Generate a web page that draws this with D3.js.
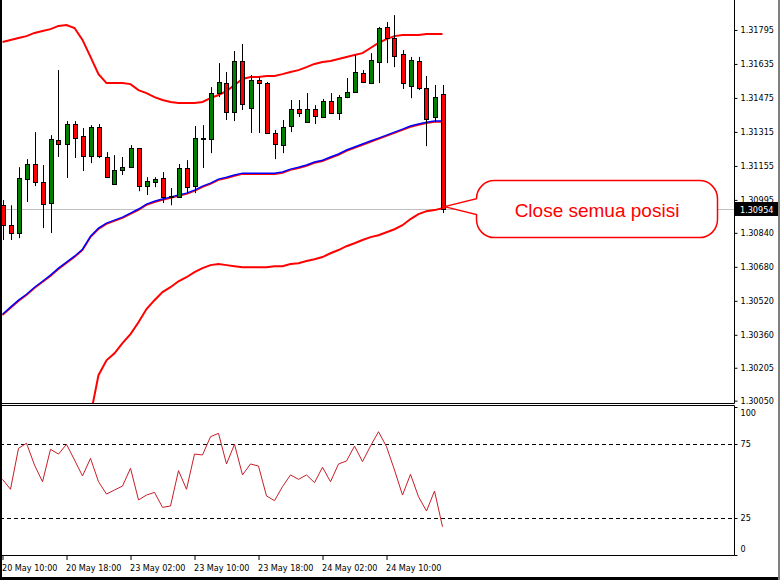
<!DOCTYPE html>
<html>
<head>
<meta charset="utf-8">
<script src="https://cdn.jsdelivr.net/npm/d3@7"></script>
<style>
  body { margin: 0; background: #fff; }
  svg { display: block; }
  .axis text { font-family: "DejaVu Sans Condensed", "Liberation Sans", sans-serif; font-size: 9px; fill: #000; }
  .axis line, .axis path { stroke: #000; }
</style>
</head>
<body>
<svg id="chart" width="780" height="580"></svg>
<script>
// H1 candles, 20 May 10:00 -> 24 May 17:00
var opens  = [1.30970,1.30876,1.30839,1.31093,1.31164,1.31079,1.30980,1.31277,1.31258,1.31352,
              1.31295,1.31201,1.31338,1.31197,1.31069,1.31135,1.31149,1.31239,1.31060,1.31079,
              1.31098,1.31008,1.31008,1.31145,1.31060,1.31281,1.31281,1.31498,1.31545,1.31409,
              1.31649,1.31427,1.31559,1.31545,1.31310,1.31253,1.31343,1.31423,1.31361,1.31423,
              1.31385,1.31460,1.31404,1.31479,1.31503,1.31592,1.31545,1.31644,1.31809,1.31757,
              1.31682,1.31531,1.31649,1.31522,1.31385,1.31493];
var highs  = [1.30994,1.30970,1.31149,1.31187,1.31314,1.31159,1.31300,1.31606,1.31366,1.31366,
              1.31333,1.31347,1.31352,1.31220,1.31206,1.31197,1.31253,1.31239,1.31102,1.31102,
              1.31126,1.31051,1.31164,1.31182,1.31343,1.31347,1.31526,1.31639,1.31597,1.31696,
              1.31729,1.31583,1.31573,1.31550,1.31324,1.31371,1.31465,1.31465,1.31498,1.31441,
              1.31470,1.31498,1.31489,1.31569,1.31677,1.31606,1.31686,1.31809,1.31832,1.31865,
              1.31700,1.31668,1.31668,1.31578,1.31536,1.31536];
var lows   = [1.30806,1.30806,1.30815,1.30985,1.31060,1.30862,1.30839,1.31197,1.31098,1.31192,
              1.31131,1.31168,1.31192,1.31098,1.31069,1.31112,1.31149,1.31036,1.31018,1.31055,
              1.30980,1.30970,1.31008,1.31027,1.31027,1.31145,1.31215,1.31479,1.31371,1.31366,
              1.31418,1.31310,1.31310,1.31310,1.31187,1.31215,1.31314,1.31385,1.31361,1.31352,
              1.31385,1.31404,1.31371,1.31474,1.31503,1.31545,1.31545,1.31545,1.31639,1.31620,
              1.31517,1.31474,1.31512,1.31248,1.31361,1.30933];
var closes = [1.30876,1.30839,1.31098,1.31164,1.31079,1.30975,1.31281,1.31258,1.31352,1.31286,
              1.31201,1.31338,1.31201,1.31102,1.31135,1.31149,1.31239,1.31060,1.31084,1.31093,
              1.31008,1.31013,1.31145,1.31055,1.31286,1.31286,1.31498,1.31550,1.31409,1.31649,
              1.31446,1.31559,1.31545,1.31310,1.31258,1.31338,1.31423,1.31404,1.31423,1.31390,
              1.31460,1.31404,1.31479,1.31503,1.31597,1.31550,1.31653,1.31804,1.31757,1.31672,
              1.31545,1.31653,1.31522,1.31376,1.31479,1.30954];

// Bollinger bands
var bandUpper = [1.31738,1.31748,1.31757,1.31766,1.31781,1.31790,1.31799,1.31814,1.31818,1.31804,
                 1.31748,1.31668,1.31587,1.31545,1.31545,1.31545,1.31540,1.31512,1.31498,1.31479,
                 1.31465,1.31456,1.31451,1.31451,1.31451,1.31456,1.31474,1.31489,1.31507,1.31536,
                 1.31564,1.31573,1.31573,1.31578,1.31578,1.31587,1.31597,1.31606,1.31620,1.31635,
                 1.31644,1.31649,1.31658,1.31668,1.31677,1.31686,1.31710,1.31734,1.31752,1.31766,
                 1.31771,1.31771,1.31771,1.31776,1.31776,1.31776];
var bandMiddle = [1.30457,1.30490,1.30523,1.30551,1.30584,1.30612,1.30641,1.30674,1.30702,1.30730,
                  1.30763,1.30824,1.30862,1.30886,1.30900,1.30914,1.30933,1.30952,1.30975,1.30989,
                  1.30999,1.31008,1.31018,1.31027,1.31041,1.31060,1.31074,1.31093,1.31102,1.31112,
                  1.31121,1.31121,1.31121,1.31121,1.31121,1.31126,1.31140,1.31149,1.31159,1.31173,
                  1.31182,1.31197,1.31211,1.31230,1.31244,1.31258,1.31272,1.31286,1.31300,1.31314,
                  1.31328,1.31343,1.31352,1.31361,1.31366,1.31366];
var bandLower = [1.29176,1.29233,1.29289,1.29336,1.29388,1.29435,1.29482,1.29534,1.29586,1.29656,
                 1.29779,1.29981,1.30170,1.30240,1.30273,1.30321,1.30363,1.30419,1.30481,1.30523,
                 1.30561,1.30584,1.30612,1.30631,1.30655,1.30674,1.30688,1.30693,1.30688,1.30683,
                 1.30678,1.30678,1.30678,1.30678,1.30683,1.30683,1.30693,1.30697,1.30707,1.30716,
                 1.30726,1.30744,1.30759,1.30777,1.30791,1.30806,1.30820,1.30829,1.30843,1.30857,
                 1.30876,1.30905,1.30928,1.30942,1.30947,1.30956];

// RSI
var rsi = [51.1,44.4,72.1,75.5,60.8,49.5,71.4,68.2,74.8,64.2,
           53.4,65.3,49.5,41.2,43.9,46.6,58.6,37.2,40.5,42.3,
           32.2,33.1,57.0,44.4,68.2,67.6,79.9,82.2,61.5,74.8,
           54.1,61.5,60.1,39.9,36.7,46.2,54.1,51.1,54.1,48.9,
           59.3,49.5,61.5,63.5,73.6,63.1,73.6,83.3,73.2,57.4,
           40.5,54.5,39.4,29.7,43.2,19.1];

var priceTicks = [1.31795,1.31635,1.31475,1.31315,1.31155,1.30995,1.30840,1.30680,1.30520,1.30360,1.30205,1.30050];
var rsiTicks = [100, 75, 25, 0];
var rsiLevels = [75, 25];
var timeTickIdx = [0, 8, 16, 24, 32, 40, 48];
var timeLabels = ["20 May 10:00","20 May 18:00","23 May 02:00","23 May 10:00","23 May 18:00","24 May 02:00","24 May 10:00"];
var lastPrice = 1.30954;
var noteText = "Close semua posisi";

var svg = d3.select("#chart");
var plotRight = 734;

var x = d3.scaleLinear().domain([0, 55]).range([2.5, 442.5]);
var y = d3.scaleLinear().domain([1.30039, 1.31936]).range([403, 0]);
var yr = d3.scaleLinear().domain([0, 100]).range([555, 407]);

svg.append("defs").append("clipPath").attr("id", "mainclip")
  .append("rect").attr("x", 0).attr("y", 0).attr("width", plotRight).attr("height", 403);

// current price line
svg.append("line")
  .attr("x1", 0).attr("x2", plotRight)
  .attr("y1", Math.round(y(lastPrice)) + 0.5).attr("y2", Math.round(y(lastPrice)) + 0.5)
  .attr("stroke", "#c0c0c0");

var main = svg.append("g").attr("clip-path", "url(#mainclip)");

// bands
function bandLine(arr) {
  return d3.line().x(function (d, i) { return x(i); }).y(function (d) { return y(d); })(arr);
}
main.append("path").attr("d", bandLine(bandUpper)).attr("fill", "none").attr("stroke", "#ff0000").attr("stroke-width", 2);
main.append("path").attr("d", bandLine(bandLower)).attr("fill", "none").attr("stroke", "#ff0000").attr("stroke-width", 2);
main.append("path").attr("d", bandLine(bandMiddle)).attr("fill", "none").attr("stroke", "#ff0000").attr("stroke-width", 1.5)
  .attr("transform", "translate(0,1)");
main.append("path").attr("d", bandLine(bandMiddle)).attr("fill", "none").attr("stroke", "#0000ff").attr("stroke-width", 1.5);

// candles
var candles = d3.range(opens.length).map(function (i) {
  return { i: i, o: opens[i], h: highs[i], l: lows[i], c: closes[i] };
});
var cg = main.append("g").selectAll("g").data(candles).enter().append("g");
cg.append("line")
  .attr("x1", function (d) { return Math.round(x(d.i)) + 0.5; })
  .attr("x2", function (d) { return Math.round(x(d.i)) + 0.5; })
  .attr("y1", function (d) { return y(d.h); })
  .attr("y2", function (d) { return y(d.l); })
  .attr("stroke", "#000");
cg.append("rect")
  .attr("x", function (d) { return Math.round(x(d.i)) - 1.5; })
  .attr("width", 4)
  .attr("y", function (d) { return Math.round(y(Math.max(d.o, d.c))) + 0.5; })
  .attr("height", function (d) { return Math.max(1, Math.round(Math.abs(y(d.o) - y(d.c)))); })
  .attr("fill", function (d) { return d.c >= d.o ? "#008000" : "#ff0000"; })
  .attr("stroke", "#000");

// price axis
var yAxis = svg.append("g").attr("class", "axis")
  .attr("transform", "translate(" + (plotRight + 0.5) + ",0)")
  .call(d3.axisRight(y).tickValues(priceTicks).tickSize(3).tickSizeOuter(0).tickFormat(d3.format(".5f")));
yAxis.select(".domain").remove();

// RSI panel
svg.selectAll(".lvl").data(rsiLevels).enter().append("line")
  .attr("x1", 0).attr("x2", plotRight)
  .attr("y1", function (d) { return Math.round(yr(d)) + 0.5; })
  .attr("y2", function (d) { return Math.round(yr(d)) + 0.5; })
  .attr("stroke", "#000").attr("stroke-dasharray", "4,3");

svg.append("path")
  .attr("d", d3.line().x(function (d, i) { return x(i); }).y(function (d) { return yr(d); })(rsi))
  .attr("fill", "none").attr("stroke", "#c81e28").attr("stroke-width", 1);

var rAxis = svg.append("g").attr("class", "axis")
  .attr("transform", "translate(" + (plotRight + 0.5) + ",0)")
  .call(d3.axisRight(yr).tickValues(rsiTicks).tickSize(3).tickSizeOuter(0));
rAxis.select(".domain").remove();
rAxis.selectAll(".tick text").attr("y", function (d) { return d === 100 ? 6 : (d === 0 ? -6 : 0); });

// time axis
var xAxis = svg.append("g").attr("class", "axis")
  .attr("transform", "translate(0,556)")
  .call(d3.axisBottom(x).tickValues(timeTickIdx).tickSize(4).tickSizeOuter(0)
    .tickFormat(function (d, i) { return timeLabels[i]; }));
xAxis.select(".domain").remove();
xAxis.selectAll(".tick text").attr("text-anchor", "start").attr("x", -1).attr("dy", "0.9em");

// frames
var frame = svg.append("g").attr("fill", "none").attr("stroke", "#000");
frame.append("path").attr("d", "M0,403.5H" + (plotRight + 0.5) + "V0");
frame.append("path").attr("d", "M0,405.5H" + (plotRight + 0.5) + "V555.5H0");
svg.append("rect").attr("x", 0).attr("y", 0).attr("width", 2).attr("height", 580).attr("fill", "#000");
svg.append("rect").attr("x", 0).attr("y", 577).attr("width", 780).attr("height", 3).attr("fill", "#000");
svg.append("rect").attr("x", 778).attr("y", 0).attr("width", 2).attr("height", 580).attr("fill", "#808080");

// last price label
var ly = Math.round(y(lastPrice));
svg.append("rect").attr("x", plotRight + 1).attr("y", ly - 7).attr("width", 43).attr("height", 14).attr("fill", "#000");
svg.append("text").attr("x", plotRight + 6).attr("y", ly + 4)
  .attr("font-family", "DejaVu Sans Condensed, Liberation Sans, sans-serif").attr("font-size", 9)
  .attr("fill", "#fff").text(d3.format(".5f")(lastPrice));

// callout
var tipX = x(55) + 2, tipY = y(closes[55]) - 2;
var bx0 = tipX + 32, bx1 = tipX + 273, by0 = tipY - 26, by1 = tipY + 31, r = 18;
var p = "M" + (bx0 + r) + "," + by0 + "H" + (bx1 - r) +
  "A" + r + "," + r + " 0 0 1 " + bx1 + "," + (by0 + r) + "V" + (by1 - r) +
  "A" + r + "," + r + " 0 0 1 " + (bx1 - r) + "," + by1 + "H" + (bx0 + r) +
  "A" + r + "," + r + " 0 0 1 " + bx0 + "," + (by1 - r) + "V" + (tipY + 8) +
  "L" + tipX + "," + tipY + "L" + bx0 + "," + (tipY - 8) + "V" + (by0 + r) +
  "A" + r + "," + r + " 0 0 1 " + (bx0 + r) + "," + by0 + "Z";
svg.append("path").attr("d", p).attr("fill", "#fff").attr("stroke", "#ff0000").attr("stroke-width", 1.5);
svg.append("text").attr("x", (bx0 + bx1) / 2).attr("y", tipY + 10)
  .attr("text-anchor", "middle").attr("font-family", "Liberation Sans, Arial, sans-serif")
  .attr("font-size", 19).attr("fill", "#ff0000").text(noteText);
</script>
</body>
</html>
